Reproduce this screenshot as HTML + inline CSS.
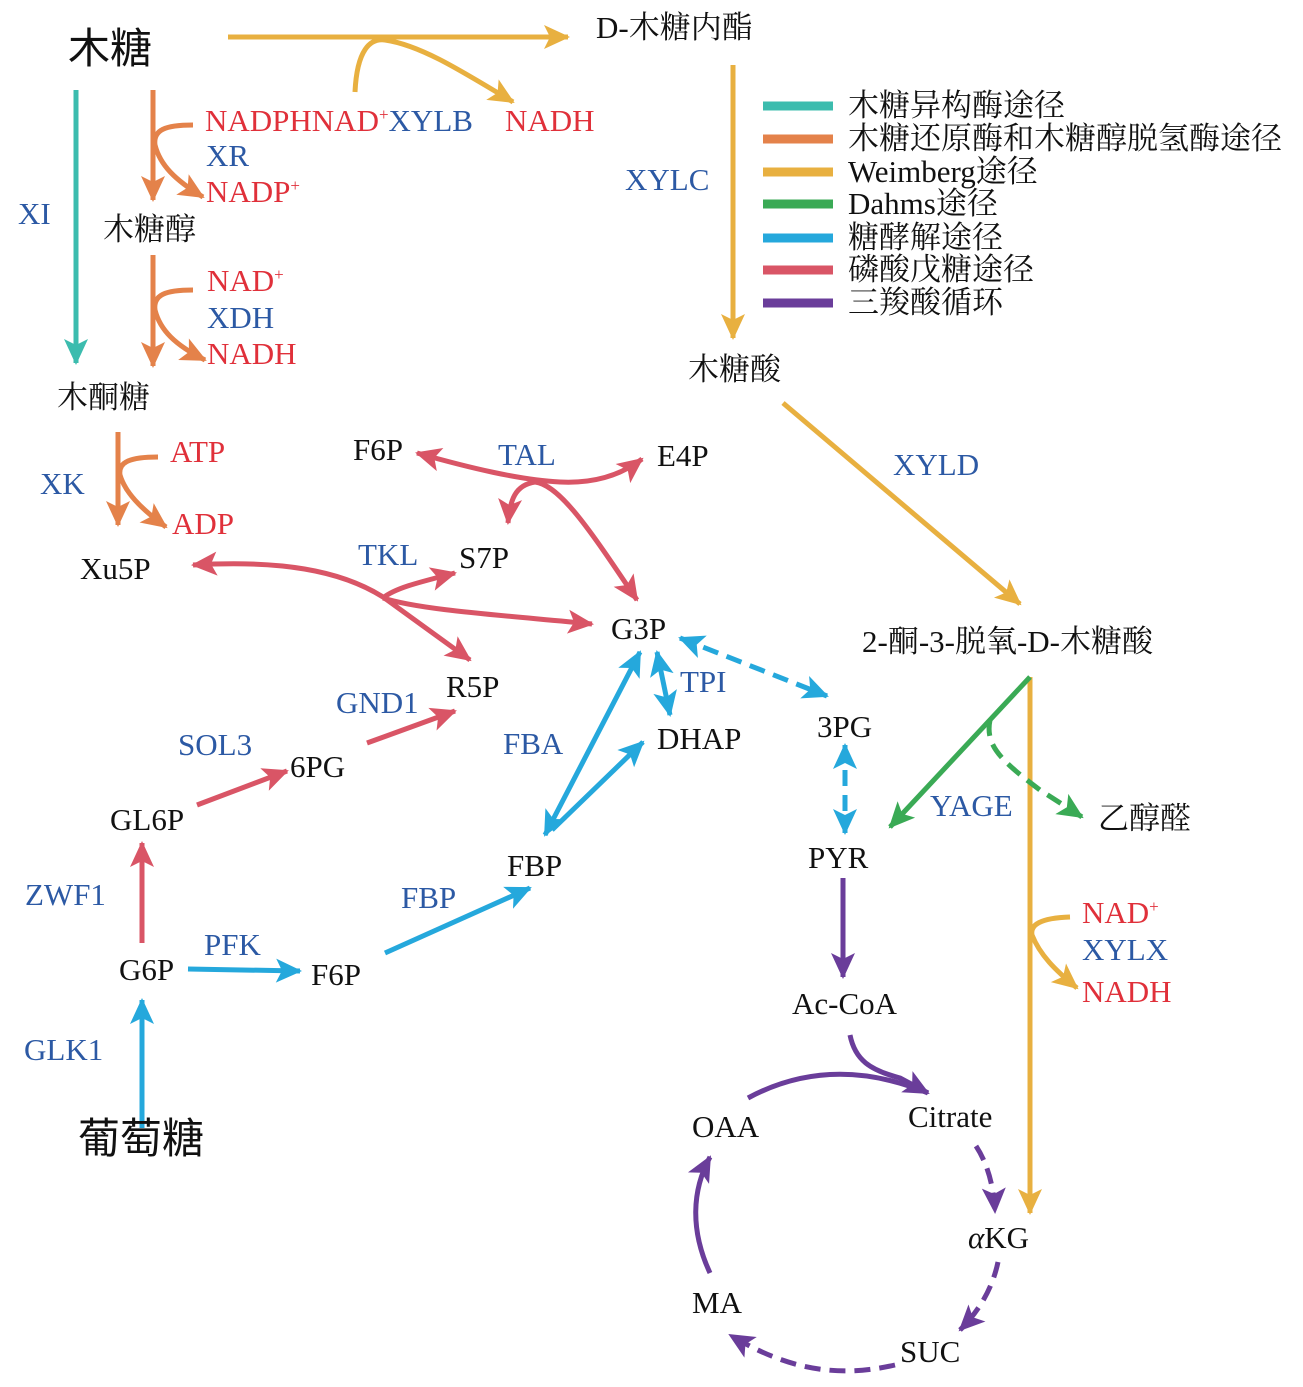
<!DOCTYPE html>
<html><head><meta charset="utf-8"><style>
html,body{margin:0;padding:0;background:#fff;}
svg{display:block;}
text{font-family:"Liberation Serif","Noto Serif CJK SC",serif;font-size:31px;fill:#111;}
.e{fill:#2c59a4;}
.r{fill:#e0303a;}
.cj{font-family:"Liberation Serif","Noto Sans CJK SC",sans-serif;}
</style></head><body>
<svg width="1303" height="1387" viewBox="0 0 1303 1387" xmlns="http://www.w3.org/2000/svg">
<defs>
<marker id="aT" markerUnits="userSpaceOnUse" markerWidth="28" markerHeight="24" refX="24" refY="12" orient="auto-start-reverse" overflow="visible"><path d="M0,0L26,12L0,24L6,12z" fill="#3cbcae"/></marker>
<marker id="aO" markerUnits="userSpaceOnUse" markerWidth="28" markerHeight="24" refX="24" refY="12" orient="auto-start-reverse" overflow="visible"><path d="M0,0L26,12L0,24L6,12z" fill="#e4824a"/></marker>
<marker id="aY" markerUnits="userSpaceOnUse" markerWidth="28" markerHeight="24" refX="24" refY="12" orient="auto-start-reverse" overflow="visible"><path d="M0,0L26,12L0,24L6,12z" fill="#e8b040"/></marker>
<marker id="aG" markerUnits="userSpaceOnUse" markerWidth="28" markerHeight="24" refX="24" refY="12" orient="auto-start-reverse" overflow="visible"><path d="M0,0L26,12L0,24L6,12z" fill="#3aaa55"/></marker>
<marker id="aB" markerUnits="userSpaceOnUse" markerWidth="28" markerHeight="24" refX="24" refY="12" orient="auto-start-reverse" overflow="visible"><path d="M0,0L26,12L0,24L6,12z" fill="#25a8dc"/></marker>
<marker id="aR" markerUnits="userSpaceOnUse" markerWidth="28" markerHeight="24" refX="24" refY="12" orient="auto-start-reverse" overflow="visible"><path d="M0,0L26,12L0,24L6,12z" fill="#d95566"/></marker>
<marker id="aP" markerUnits="userSpaceOnUse" markerWidth="28" markerHeight="24" refX="24" refY="12" orient="auto-start-reverse" overflow="visible"><path d="M0,0L26,12L0,24L6,12z" fill="#6a3d9a"/></marker>
</defs>
<g fill="none" stroke-width="5" stroke-linecap="butt">
<g stroke="#e8b040">
<path d="M228,37 L568,37" marker-end="url(#aY)"/>
<path d="M355,92 C357,50 370,38 385,40 C420,45 460,70 513,102" marker-end="url(#aY)"/>
<path d="M733,65 L733,338" marker-end="url(#aY)"/>
<path d="M783,403 L1020,604" marker-end="url(#aY)"/>
<path d="M1030,677 L1030,1213" marker-end="url(#aY)"/>
<path d="M1070,917 C1040,918 1030,925 1032,935 C1040,955 1055,970 1077,988" marker-end="url(#aY)"/>
</g>
<g stroke-width="9">
<path d="M763,106H833" stroke="#3cbcae"/>
<path d="M763,139H833" stroke="#e4824a"/>
<path d="M763,172H833" stroke="#e8b040"/>
<path d="M763,204H833" stroke="#3aaa55"/>
<path d="M763,238H833" stroke="#25a8dc"/>
<path d="M763,270H833" stroke="#d95566"/>
<path d="M763,303H833" stroke="#6a3d9a"/>
</g>
<path d="M76,90 L76,363" stroke="#3cbcae" marker-end="url(#aT)"/>
<g stroke="#e4824a">
<path d="M153,90 L153,200" marker-end="url(#aO)"/>
<path d="M193,125 C165,125 153,130 155,145 C160,165 175,180 203,197" marker-end="url(#aO)"/>
<path d="M153,255 L153,366" marker-end="url(#aO)"/>
<path d="M193,290 C165,290 153,295 155,310 C160,330 175,345 205,360" marker-end="url(#aO)"/>
<path d="M118,432 L118,525" marker-end="url(#aO)"/>
<path d="M158,457 C130,457 118,462 120,475 C125,492 140,508 166,527" marker-end="url(#aO)"/>
</g>
<g stroke="#d95566">
<path d="M193,565 C280,560 340,570 383,597 L470,660" marker-start="url(#aR)" marker-end="url(#aR)"/>
<path d="M383,598 C395,588 420,582 455,573" marker-end="url(#aR)"/>
<path d="M383,598 C420,610 500,615 592,624" marker-end="url(#aR)"/>
<path d="M417,453 C470,468 520,480 560,482 C600,484 625,472 642,459" marker-start="url(#aR)" marker-end="url(#aR)"/>
<path d="M535,482 C515,485 510,500 508,523" marker-end="url(#aR)"/>
<path d="M535,482 C560,485 590,530 637,600" marker-end="url(#aR)"/>
<path d="M142,943 L142,843" marker-end="url(#aR)"/>
<path d="M197,805 L287,771" marker-end="url(#aR)"/>
<path d="M367,743 L455,711" marker-end="url(#aR)"/>
</g>
<g stroke="#25a8dc">
<path d="M640,652 L545,835" marker-start="url(#aB)" marker-end="url(#aB)"/>
<path d="M643,742 L552,830" marker-start="url(#aB)"/>
<path d="M657,652 L670,715" marker-start="url(#aB)" marker-end="url(#aB)"/>
<path d="M680,638 L827,696" stroke-dasharray="16,9" marker-start="url(#aB)" marker-end="url(#aB)"/>
<path d="M845,745 L845,833" stroke-dasharray="16,9" marker-start="url(#aB)" marker-end="url(#aB)"/>
<path d="M385,953 L530,888" marker-end="url(#aB)"/>
<path d="M188,969 L300,971" marker-end="url(#aB)"/>
<path d="M142,1128 L142,1000" marker-end="url(#aB)"/>
</g>
<g stroke="#3aaa55">
<path d="M1030,677 L890,827" marker-end="url(#aG)"/>
<path d="M990,720 C985,745 1000,760 1040,790 L1082,817" stroke-dasharray="16,9" marker-end="url(#aG)"/>
</g>
<g stroke="#6a3d9a">
<path d="M843,878 L843,977" marker-end="url(#aP)"/>
<path d="M850,1035 C855,1060 870,1070 900,1078 L928,1093" marker-end="url(#aP)"/>
<path d="M748,1098 C800,1070 860,1065 928,1093"/>
<path d="M976,1146 Q993,1172 995,1212" stroke-dasharray="16,9" marker-end="url(#aP)"/>
<path d="M998,1262 Q990,1300 960,1330" stroke-dasharray="16,9" marker-end="url(#aP)"/>
<path d="M895,1365 C830,1380 780,1365 730,1335" stroke-dasharray="16,9" marker-end="url(#aP)"/>
<path d="M710,1273 C690,1230 692,1190 710,1157" marker-end="url(#aP)"/>
</g>
</g>
<text x="68" y="63" class="cj" style="font-size:42px">木糖</text>
<text x="596" y="38">D-木糖内酯</text>
<text x="205" y="131"><tspan class="r">NADPHNAD</tspan><tspan class="r" font-size="17" dy="-11">+</tspan><tspan class="e" dy="11">XYLB</tspan></text>
<text x="505" y="131" class="r">NADH</text>
<text x="206" y="166" class="e">XR</text>
<text x="206" y="202" class="r">NADP<tspan font-size="17" dy="-11">+</tspan></text>
<text x="18" y="224" class="e">XI</text>
<text x="103" y="240">木糖醇</text>
<text x="207" y="291" class="r">NAD<tspan font-size="17" dy="-11">+</tspan></text>
<text x="207" y="328" class="e">XDH</text>
<text x="207" y="364" class="r">NADH</text>
<text x="57" y="408">木酮糖</text>
<text x="170" y="462" class="r">ATP</text>
<text x="40" y="494" class="e">XK</text>
<text x="172" y="534" class="r">ADP</text>
<text x="80" y="579">Xu5P</text>
<text x="625" y="190" class="e">XYLC</text>
<text x="688" y="380">木糖酸</text>
<text x="893" y="475" class="e">XYLD</text>
<text x="862" y="652">2-酮-3-脱氧-D-木糖酸</text>
<text x="848" y="116">木糖异构酶途径</text>
<text x="848" y="149">木糖还原酶和木糖醇脱氢酶途径</text>
<text x="848" y="182">Weimberg途径</text>
<text x="848" y="214">Dahms途径</text>
<text x="848" y="248">糖酵解途径</text>
<text x="848" y="280">磷酸戊糖途径</text>
<text x="848" y="313">三羧酸循环</text>
<text x="353" y="460">F6P</text>
<text x="498" y="465" class="e">TAL</text>
<text x="657" y="466">E4P</text>
<text x="358" y="565" class="e">TKL</text>
<text x="459" y="568">S7P</text>
<text x="611" y="639">G3P</text>
<text x="446" y="697">R5P</text>
<text x="336" y="713" class="e">GND1</text>
<text x="680" y="692" class="e">TPI</text>
<text x="657" y="749">DHAP</text>
<text x="503" y="754" class="e">FBA</text>
<text x="817" y="737">3PG</text>
<text x="178" y="755" class="e">SOL3</text>
<text x="290" y="777">6PG</text>
<text x="110" y="830">GL6P</text>
<text x="930" y="816" class="e">YAGE</text>
<text x="1098" y="829">乙醇醛</text>
<text x="808" y="868">PYR</text>
<text x="507" y="876">FBP</text>
<text x="25" y="905" class="e">ZWF1</text>
<text x="401" y="908" class="e">FBP</text>
<text x="1082" y="923" class="r">NAD<tspan font-size="17" dy="-11">+</tspan></text>
<text x="204" y="955" class="e">PFK</text>
<text x="1082" y="960" class="e">XYLX</text>
<text x="119" y="980">G6P</text>
<text x="311" y="985">F6P</text>
<text x="1082" y="1002" class="r">NADH</text>
<text x="792" y="1014">Ac-CoA</text>
<text x="24" y="1060" class="e">GLK1</text>
<text x="908" y="1127">Citrate</text>
<text x="692" y="1137">OAA</text>
<text x="78" y="1153" class="cj" style="font-size:42px">葡萄糖</text>
<text x="968" y="1248"><tspan font-style="italic">α</tspan>KG</text>
<text x="692" y="1313">MA</text>
<text x="900" y="1362">SUC</text>
</svg>
</body></html>
